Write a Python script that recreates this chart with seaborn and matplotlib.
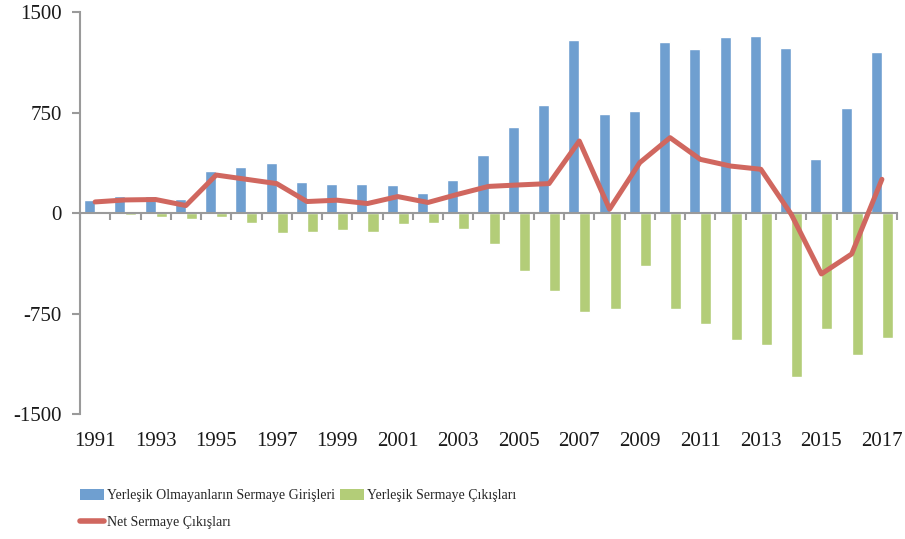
import matplotlib

matplotlib.use("Agg")
import matplotlib.pyplot as plt
from matplotlib.lines import Line2D
from matplotlib.patches import Patch
import numpy as np
import pandas as pd
import seaborn as sns


YEARS = list(range(1991, 2018))
INFLOWS = [97, 127, 127, 104, 313, 343, 373, 231, 221, 221, 211, 154, 248, 437,
           643, 805, 1294, 738, 767, 1276, 1227, 1313, 1323, 1237, 407, 787, 1202]
OUTFLOWS = [0, -15, -25, -42, -25, -72, -147, -137, -127, -137, -82, -72, -119, -233,
            -430, -581, -740, -713, -392, -713, -827, -948, -986, -1222, -864, -1063, -931]
NET = [84, 99, 102, 57, 285, 253, 221, 87, 97, 72, 124, 80, 142, 200,
       211, 221, 539, 30, 378, 564, 402, 352, 328, -7, -454, -305, 253]

LABEL_IN = "Yerleşik Olmayanların Sermaye Girişleri"
LABEL_OUT = "Yerleşik Sermaye Çıkışları"
LABEL_NET = "Net Sermaye Çıkışları"
Y_TICKS = [-1500, -750, 0, 750, 1500]

COLORS = {LABEL_IN: "#6f9fd0", LABEL_OUT: "#b3cd78"}
NET_COLOR = "#d0675f"
AXIS_GRAY = "#9a9a9a"


def main():
    sns.set_theme(style="white")
    plt.rcParams["font.family"] = ["Liberation Serif", "DejaVu Serif"]

    df = pd.DataFrame({
        "year": [str(y) for y in YEARS] * 2,
        "value": INFLOWS + OUTFLOWS,
        "series": [LABEL_IN] * len(YEARS) + [LABEL_OUT] * len(YEARS),
    })

    fig = plt.figure(figsize=(9.05, 5.39), dpi=100)
    ax = fig.add_axes([0.0884, 0.232, 0.9028, 0.745])

    sns.barplot(data=df, x="year", y="value", hue="series",
                hue_order=[LABEL_IN, LABEL_OUT], palette=COLORS,
                width=0.73, gap=0, saturation=1, legend=False, ax=ax)
    sns.lineplot(x=np.arange(len(YEARS)), y=NET, color=NET_COLOR,
                 linewidth=3.6, ax=ax)

    ax.set_xlim(-0.5, len(YEARS) - 0.5)
    ax.set_ylim(-1500, 1500)
    ax.set_xlabel("")
    ax.set_ylabel("")

    # spreadsheet-style axes: zero line with category ticks, labels at the bottom
    for side in ["top", "right"]:
        ax.spines[side].set_visible(False)
    ax.spines["left"].set_color(AXIS_GRAY)
    ax.spines["left"].set_linewidth(1.5)
    ax.spines["bottom"].set_position(("data", 0))
    ax.spines["bottom"].set_color(AXIS_GRAY)
    ax.spines["bottom"].set_linewidth(1.5)
    ax.spines["bottom"].set_zorder(1.5)

    ax.set_yticks(Y_TICKS)
    ax.set_yticklabels([str(v) for v in Y_TICKS])
    ax.tick_params(axis="y", left=True, length=6, width=1.5, color=AXIS_GRAY,
                   pad=7, labelsize=15, labelcolor="#1a1a1a")

    ax.set_xticks(np.arange(-0.5, len(YEARS), 1.0))
    ax.set_xticklabels([])
    ax.tick_params(axis="x", bottom=True, length=5, width=1.5, color=AXIS_GRAY)

    sec = ax.secondary_xaxis("bottom")
    sec.set_xticks(np.arange(0, len(YEARS), 2))
    sec.set_xticklabels([str(y) for y in YEARS[::2]])
    sec.tick_params(length=0, pad=13, labelsize=15, labelcolor="#1a1a1a")
    sec.spines["bottom"].set_visible(False)

    handles = [
        Patch(facecolor=COLORS[LABEL_IN], edgecolor="none"),
        Line2D([], [], color=NET_COLOR, linewidth=4),
        Patch(facecolor=COLORS[LABEL_OUT], edgecolor="none"),
    ]
    labels = [LABEL_IN, LABEL_NET, LABEL_OUT]
    fig.legend(handles, labels, loc="upper left",
               bbox_to_anchor=(80 / 905, 1 - 489 / 539), ncol=2,
               frameon=False, fontsize=10, handlelength=1.7,
               handleheight=0.8, handletextpad=0.25, columnspacing=0.35,
               labelspacing=1.0, borderpad=0, borderaxespad=0)

    fig.savefig("out.png", dpi=100)
    plt.close(fig)


if __name__ == "__main__":
    main()
